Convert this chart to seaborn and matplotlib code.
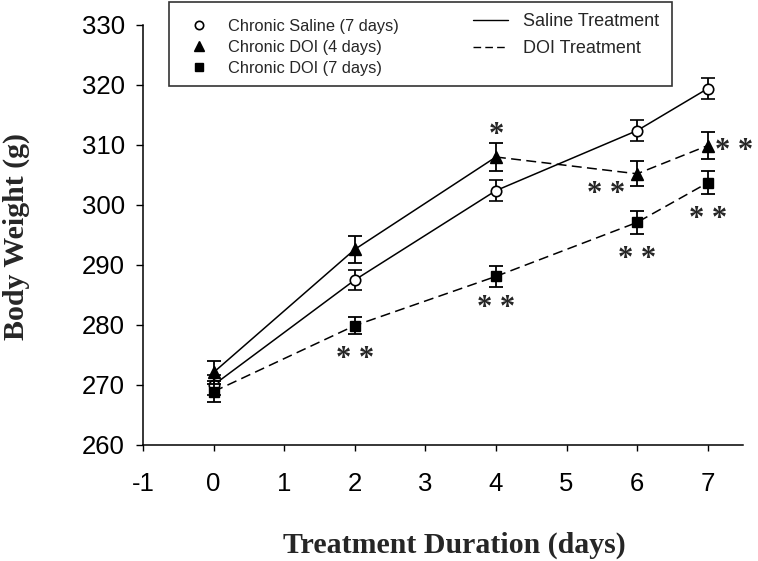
import seaborn as sns
import matplotlib.pyplot as plt
import matplotlib.lines as mlines
from matplotlib.patches import Rectangle
import pandas as pd

# ----------------------- Data -----------------------
days = [0, 2, 4, 6, 7]

saline_mean = [270.0, 287.5, 302.4, 312.4, 319.4]
saline_sem = [1.6, 1.6, 1.8, 1.8, 1.8]

doi4_mean = [272.1, 292.6, 308.0, 305.2, 309.9]
doi4_sem = [1.9, 2.2, 2.3, 2.1, 2.3]

doi7_mean = [268.9, 279.9, 288.1, 297.1, 303.7]
doi7_sem = [1.8, 1.4, 1.7, 1.9, 1.9]

groups = ['Chronic Saline (7 days)', 'Chronic DOI (4 days)', 'Chronic DOI (7 days)']
treatments = ['Saline Treatment', 'DOI Treatment']

x_ticks = [-1, 0, 1, 2, 3, 4, 5, 6, 7]
y_ticks = [260, 270, 280, 290, 300, 310, 320, 330]

# significance marks (x, y, text)
star_x = [2, 4, 4, 5.56, 6, 7.38, 7]
star_y = [274.2, 282.8, 311.6, 301.8, 290.9, 308.9, 297.6]
star_txt = ['* *', '* *', '*', '* *', '* *', '* *', '* *']

df = pd.DataFrame({
    'Day': days * 3,
    'Weight': saline_mean + doi4_mean + doi7_mean,
    'SEM': saline_sem + doi4_sem + doi7_sem,
    'Group': [groups[0]] * 5 + [groups[1]] * 5 + [groups[2]] * 5,
})

# ----------------------- Plot -----------------------
sns.set_style('ticks')
plt.rcParams['font.family'] = ['Liberation Sans', 'DejaVu Sans']
plt.rcParams['axes.unicode_minus'] = False

fig = plt.figure(figsize=(7.58, 5.61), dpi=100)
ax = fig.add_axes([143 / 758, 1 - 445 / 561, 600 / 758, 420 / 561])

sal = df[df.Group == groups[0]]
d4 = df[df.Group == groups[1]]
d7 = df[df.Group == groups[2]]

lw = 1.1
dash = (6.5, 3.5)
# lines
sns.lineplot(data=sal, x='Day', y='Weight', color='black', lw=lw, ax=ax, legend=False)
sns.lineplot(data=d4[d4.Day <= 4], x='Day', y='Weight', color='black', lw=lw, ax=ax, legend=False)
sns.lineplot(data=d4[d4.Day >= 4], x='Day', y='Weight', color='black', lw=lw, ax=ax,
             legend=False, linestyle=(0, dash))
sns.lineplot(data=d7, x='Day', y='Weight', color='black', lw=lw, ax=ax, legend=False,
             linestyle=(0, dash))

# error bars + markers
eb = dict(ecolor='black', elinewidth=1.3, capsize=4.7, capthick=1.3)
ax.errorbar(sal.Day, sal.Weight, yerr=sal.SEM, fmt='o', mfc='white', mec='black', mew=1.2,
            ms=7.5, zorder=3, **eb)
ax.errorbar(d4.Day, d4.Weight, yerr=d4.SEM, fmt='^', mfc='black', mec='black',
            ms=8.5, zorder=4, **eb)
ax.errorbar(d7.Day, d7.Weight, yerr=d7.SEM, fmt='s', mfc='black', mec='black',
            ms=6.5, zorder=5, **eb)

for sx, sy, st in zip(star_x, star_y, star_txt):
    ax.text(sx, sy, st, ha='center', va='center', fontsize=22, fontweight='bold',
            family='Liberation Serif')

ax.set_xlim(-1, 7.5)
ax.set_ylim(260, 330)
ax.set_xticks(x_ticks)
ax.set_yticks(y_ticks)
ax.tick_params(labelsize=18.5, width=1, color='black', labelcolor='black')
ax.tick_params(axis='x', length=4.3, pad=15)
ax.tick_params(axis='y', length=5, pad=8)
sns.despine(ax=ax)
for sp in ['left', 'bottom']:
    ax.spines[sp].set_color('black')
    ax.spines[sp].set_linewidth(1.1)

ax.set_xlabel('')
ax.set_ylabel('')
fig.text(454 / 758, 1 - 553 / 561, 'Treatment Duration (days)', ha='center', va='baseline',
         fontsize=21.5, fontweight='bold', family='Liberation Serif')
fig.text(16 / 758, 1 - 236 / 561, 'Body Weight (g)', ha='center', va='center', rotation=90,
         fontsize=21.5, fontweight='bold', family='Liberation Serif')

# ----------------------- Legend -----------------------
fig.patches.append(Rectangle((169 / 758, 1 - 86 / 561), 503 / 758, 84 / 561, transform=fig.transFigure,
                             facecolor='white', edgecolor='#333333', lw=1.2, zorder=10))
mk_handles = [
    mlines.Line2D([], [], ls='none', marker='o', mfc='white', mec='black', mew=1.2, ms=6),
    mlines.Line2D([], [], ls='none', marker='^', color='black', ms=7),
    mlines.Line2D([], [], ls='none', marker='s', color='black', ms=5.5),
]
ln_handles = [
    mlines.Line2D([], [], color='black', lw=1),
    mlines.Line2D([], [], color='black', lw=1, ls=(0, (5.5, 3))),
]
leg1 = fig.legend(handles=mk_handles, labels=groups, loc='upper left',
                  bbox_to_anchor=(190 / 758, 1 - 19 / 561), frameon=False, fontsize=11.8,
                  handlelength=1.1, handletextpad=1.2, labelspacing=0.37, borderpad=0,
                  borderaxespad=0)
leg1.set_zorder(11)
leg2 = fig.legend(handles=ln_handles, labels=treatments, loc='upper left',
                  bbox_to_anchor=(473 / 758, 1 - 13 / 561), frameon=False, fontsize=13,
                  handlelength=1.94, handletextpad=0.83, labelspacing=0.55, borderpad=0,
                  borderaxespad=0)
leg2.set_zorder(11)

plt.savefig('out.png', dpi=100)
